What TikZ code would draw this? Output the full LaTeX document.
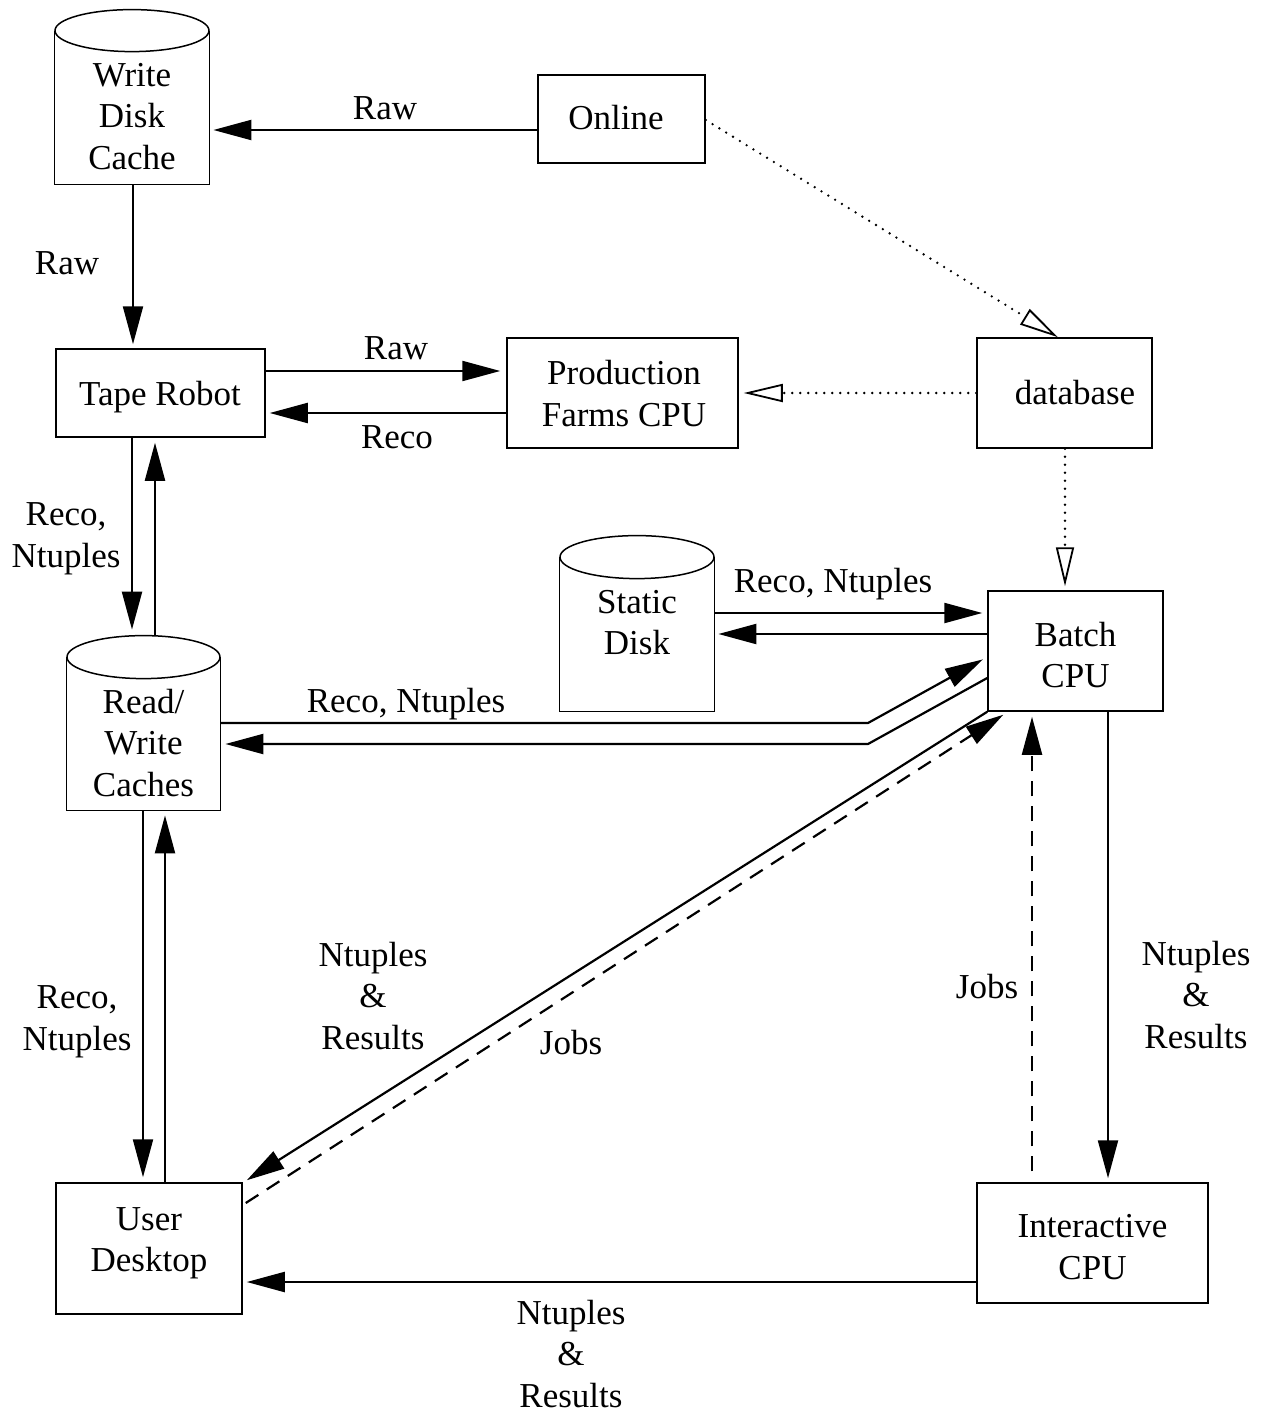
\documentclass[tikz,border=0pt]{standalone}
\usepackage{fontspec}
\setmainfont{Liberation Serif}
\usetikzlibrary{arrows.meta,fit,calc}
\begin{document}
\begin{tikzpicture}[x=0.5pt,y=-0.5pt,
  box/.style={draw, line width=0.75pt, inner sep=0pt},
  txt/.style={font=\fontsize{17.5}{20.75}\selectfont, align=center, inner sep=0pt},
  conn/.style={line width=1.1pt, -{Triangle[length=19pt,width=10pt]}},
  dots/.style={line width=1.3pt, line cap=round, dash pattern=on 0pt off 4pt, -{Triangle[open,length=19.5pt,width=9pt,line width=0.9pt]}},
  jobs/.style={line width=1.1pt, dash pattern=on 7.5pt off 5pt, -{Triangle[length=19pt,width=10pt]}}]
\useasboundingbox (0,0) rectangle (1263,1412);

% ---- boxes ----
\node[box,fit={(538,75) (705,163)}] (online) {};
\node[txt] (onlinetext) at (616,118) {Online};
\node[box,fit={(56,349) (265,437)}] (tape) {};
\node[txt] (tapetext) at (160,397) {Tape Robot};
\node[box,fit={(507,338) (738,448)}] (prod) {};
\node[txt] (prodtext) at (624,393.5) {Production\\Farms CPU};
\node[box,fit={(977,338) (1152,448)}] (db) {};
\node[txt] (dbtext) at (1075,393) {database};
\node[box,fit={(988,591) (1163,711)}] (batch) {};
\node[txt] (batchtext) at (1075.5,655) {Batch\\CPU};
\node[box,fit={(56,1183) (242,1314)}] (user) {};
\node[txt] (usertext) at (149,1243) {User\\Desktop};
\node[box,fit={(977,1183) (1208,1303)}] (inter) {};
\node[txt] (intertext) at (1092.5,1247) {Interactive\\CPU};

% ---- cylinders ----
\node[inner sep=0pt,fit={(55,10) (209,184)}] (wdc) {};
\draw[box] ($(wdc.north west)+(0,21)$) -- (wdc.south west) -- (wdc.south east) -- ($(wdc.north east)+(0,21)$);
\draw[box] ($(wdc.north)+(0,21)$) ellipse [x radius=38.5pt, y radius=10.5pt];
\node[txt] (wdctext) at (132,116.5) {Write\\Disk\\Cache};

\node[inner sep=0pt,fit={(67,636) (220,810)}] (rw) {};
\draw[box] ($(rw.north west)+(0,21.5)$) -- (rw.south west) -- (rw.south east) -- ($(rw.north east)+(0,21.5)$);
\draw[box] ($(rw.north)+(0,21.5)$) ellipse [x radius=38.25pt, y radius=10.75pt];
\node[txt] (rwtext) at (143.5,743) {Read/\\Write\\Caches};

\node[inner sep=0pt,fit={(560,536) (714,711)}] (static) {};
\draw[box] ($(static.north west)+(0,21.5)$) -- (static.south west) -- (static.south east) -- ($(static.north east)+(0,21.5)$);
\draw[box] ($(static.north)+(0,21.5)$) ellipse [x radius=38.5pt, y radius=10.75pt];
\node[txt] (statictext) at (637,622.5) {Static\\Disk};

% ---- connectors ----
\draw[conn, shorten >=2pt] (online.west |- 0,130) -- (wdc.east |- 0,130)
  node[txt] (l1) at (385,108) {Raw};
\draw[conn, shorten >=2pt] (133,0 |- wdc.south) -- (133,0 |- tape.north)
  node[txt] (l2) at (67,263) {Raw};
\draw[conn, shorten >=3pt] (tape.east |- 0,371) -- (prod.west |- 0,371)
  node[txt] (l3) at (396,348) {Raw};
\draw[conn, shorten >=2pt] (prod.west |- 0,413) -- (tape.east |- 0,413)
  node[txt] (l4) at (397,437) {Reco};

\draw[dots] (online.east |- 0,120) -- (1058,0 |- db.north);
\draw[dots, shorten >=2.5pt] (db.west) -- (prod.east |- db.west);
\draw[dots, shorten >=2pt] (1065,0 |- db.south) -- (1065,0 |- batch.north);

\draw[conn, shorten >=3pt] (132,0 |- tape.south) -- (132,0 |- rw.north)
  node[txt] (l5) at (66,539) {Reco,\\Ntuples};
\draw[conn, shorten >=2.5pt] (155,0 |- rw.north) -- (155,0 |- tape.south);

\draw[conn, shorten >=2.5pt] (static.east |- 0,613) -- (batch.west |- 0,613)
  node[txt] (l6) at (833,584) {Reco, Ntuples};
\draw[conn, shorten >=2pt] (batch.west |- 0,634) -- (static.east |- 0,634);

\draw[conn, shorten >=2.5pt] (rw.east |- 0,723) -- (868,723) -- (batch.west |- 0,657)
  node[txt] (l7) at (406,704) {Reco, Ntuples};
\draw[conn, shorten >=2.5pt] (batch.west |- 0,678) -- (868,744) -- (rw.east |- 0,744);

\draw[conn, shorten >=2.5pt] (143,0 |- rw.south) -- (143,0 |- user.north);
\draw[conn, shorten >=2.5pt] (165,0 |- user.north) -- (165,0 |- rw.south)
  node[txt] (l8) at (77,1022) {Reco,\\Ntuples};

\draw[conn] (batch.south west) -- ($(user.north east)+(4,-2)$)
  node[txt] (l9) at (373,996) {Ntuples\\\&\\Results};
\draw[jobs] ($(user.east |- 0,1203)+(3,0)$) -- ($(batch.south west)+(16,3)$)
  node[txt] (l10) at (571,1043) {Jobs};

\draw[jobs, shorten <=5.5pt, shorten >=2.5pt] (1032,0 |- inter.north) -- (1032,0 |- batch.south)
  node[txt] (l11) at (987,987) {Jobs};
\draw[conn, shorten >=2pt] (1108,0 |- batch.south) -- (1108,0 |- inter.north)
  node[txt] (l12) at (1196,995) {Ntuples\\\&\\Results};
\draw[conn, shorten >=2pt] (inter.west |- 0,1282) -- (user.east |- 0,1282)
  node[txt] (l13) at (571,1354) {Ntuples\\\&\\Results};
\end{tikzpicture}
\end{document}
